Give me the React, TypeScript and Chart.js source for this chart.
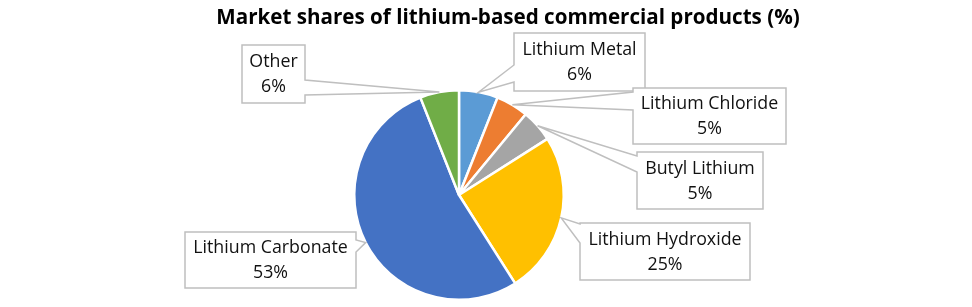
import React, { useEffect, useRef } from "react";
import { Chart, registerables } from "chart.js";

Chart.register(...registerables);

const TITLE = "Market shares of lithium-based commercial products (%)";
const categories = [
  "Lithium Metal",
  "Lithium Chloride",
  "Butyl Lithium",
  "Lithium Hydroxide",
  "Lithium Carbonate",
  "Other",
];
const shares = [6, 5, 5, 25, 53, 6];
const colors = ["#5B9BD5", "#ED7D31", "#A5A5A5", "#FFC000", "#4472C4", "#70AD47"];

// callout box layout (canvas px): [left, top, right, bottom]
const boxRects = [
  [514, 33, 645, 91],
  [633, 88, 786, 144],
  [637, 152, 763, 209],
  [580, 223, 750, 280],
  [185, 232, 356, 288],
  [242, 45, 305, 103],
];
// tail base: side ("l" | "r"), and y-range on that side
const tailSides = ["l", "l", "l", "l", "r", "r"];
const tailBase = [
  [65, 82],
  [92, 110],
  [156, 172],
  [224, 243],
  [240, 252],
  [80, 95],
];

const LABEL_FONT = "17.8px 'Open Sans', sans-serif";
const TITLE_FONT = "bold 20.6px 'Open Sans', sans-serif";

const calloutPlugin = {
  id: "callouts",
  afterDatasetsDraw(chart: any) {
    const ctx = chart.ctx as CanvasRenderingContext2D;
    const meta = chart.getDatasetMeta(0);
    ctx.save();
    meta.data.forEach((arc: any, i: number) => {
      const mid = (arc.startAngle + arc.endAngle) / 2;
      const tx = arc.x + Math.cos(mid) * arc.outerRadius;
      const ty = arc.y + Math.sin(mid) * arc.outerRadius;
      const [l, t, r, b] = boxRects[i];
      const [b1, b2] = tailBase[i];
      ctx.beginPath();
      if (tailSides[i] === "l") {
        ctx.moveTo(l, t);
        ctx.lineTo(r, t);
        ctx.lineTo(r, b);
        ctx.lineTo(l, b);
        ctx.lineTo(l, b2);
        ctx.lineTo(tx, ty);
        ctx.lineTo(l, b1);
        ctx.closePath();
      } else {
        ctx.moveTo(l, t);
        ctx.lineTo(r, t);
        ctx.lineTo(r, b1);
        ctx.lineTo(tx, ty);
        ctx.lineTo(r, b2);
        ctx.lineTo(r, b);
        ctx.lineTo(l, b);
        ctx.closePath();
      }
      ctx.fillStyle = "#FFFFFF";
      ctx.fill();
      ctx.strokeStyle = "#BFBFBF";
      ctx.lineWidth = 1.5;
      ctx.stroke();
      const cx = (l + r) / 2;
      const cy = (t + b) / 2;
      ctx.fillStyle = "#111111";
      ctx.font = LABEL_FONT;
      ctx.textAlign = "center";
      ctx.textBaseline = "middle";
      ctx.fillText(categories[i], cx, cy - 12);
      ctx.fillText(shares[i] + "%", cx, cy + 13);
    });
    ctx.fillStyle = "#000000";
    ctx.font = TITLE_FONT;
    ctx.textAlign = "center";
    ctx.textBaseline = "middle";
    ctx.fillText(TITLE, 508, 18);
    ctx.restore();
  },
};

export default function App() {
  const ref = useRef<HTMLCanvasElement | null>(null);
  useEffect(() => {
    document.body.style.margin = "0";
    const chart = new Chart(ref.current as HTMLCanvasElement, {
      type: "pie",
      data: {
        labels: categories,
        datasets: [
          {
            data: shares,
            backgroundColor: colors,
            borderColor: "#FFFFFF",
            borderWidth: 2.5,
          },
        ],
      },
      options: {
        animation: false,
        responsive: false,
        events: [],
        layout: { padding: { top: 89, bottom: 6, left: 353, right: 407 } },
        plugins: {
          legend: { display: false },
          title: { display: false },
          tooltip: { enabled: false },
        },
      },
      plugins: [calloutPlugin],
    });
    return () => chart.destroy();
  }, []);
  return (
    <div style={{ position: "fixed", left: 0, top: 0, width: 972, height: 307, background: "#fff" }}>
      <canvas ref={ref} width={972} height={307} />
    </div>
  );
}
